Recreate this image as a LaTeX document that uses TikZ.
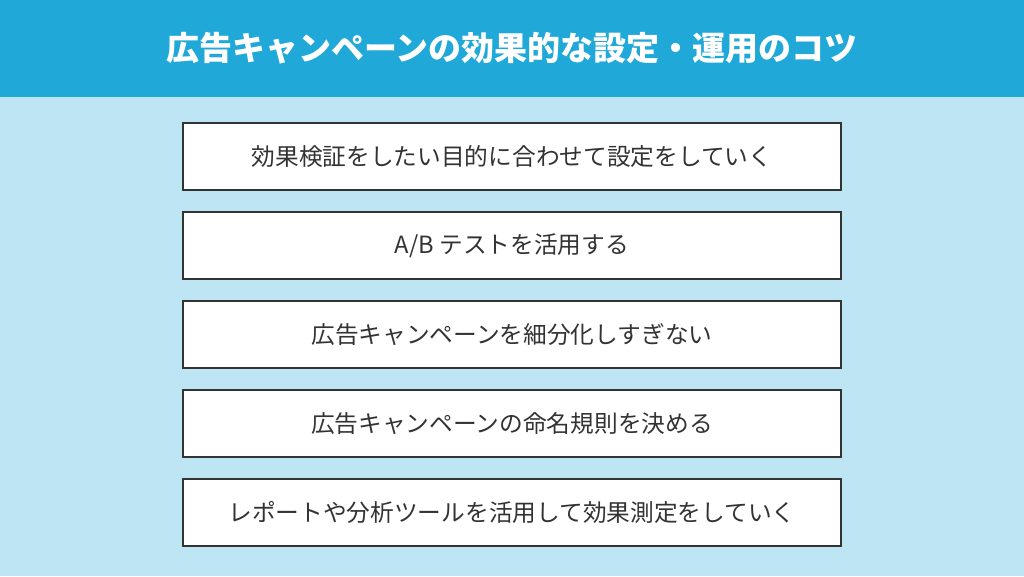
\documentclass[tikz,border=0pt]{standalone}
\usepackage{fontspec}
\setmainfont{Noto Sans CJK JP}
\definecolor{headerblue}{HTML}{1FA8D8}
\definecolor{bglight}{HTML}{BDE5F3}
\definecolor{boxline}{HTML}{333333}
\definecolor{txt}{HTML}{333333}
\begin{document}
\begin{tikzpicture}[x=1pt,y=-1pt,
  itembox/.style={draw=boxline,line width=1.6pt,fill=white,minimum width=658pt,minimum height=67pt,inner sep=0pt,text=txt,font=\fontsize{23.7pt}{27pt}\selectfont},
  titletext/.style={text=white,font=\fontsize{33pt}{37pt}\selectfont\bfseries}]
\useasboundingbox (0,0) rectangle (1024,576);
\fill[bglight] (0,0) rectangle (1024,576);
\fill[headerblue] (0,0) rectangle (1024,97);
\node[titletext] (title) at (512,48) {広告キャンペーンの効果的な設定・運用のコツ};
\node[itembox] (b1) at (512,156.5) {効果検証をしたい目的に合わせて設定をしていく};
\node[itembox] (b2) at (512,245.5) {A/B テストを活用する};
\node[itembox] (b3) at (512,334.5) {広告キャンペーンを細分化しすぎない};
\node[itembox] (b4) at (512,423.5) {広告キャンペーンの命名規則を決める};
\node[itembox] (b5) at (512,512.5) {レポートや分析ツールを活用して効果測定をしていく};
\end{tikzpicture}
\end{document}
